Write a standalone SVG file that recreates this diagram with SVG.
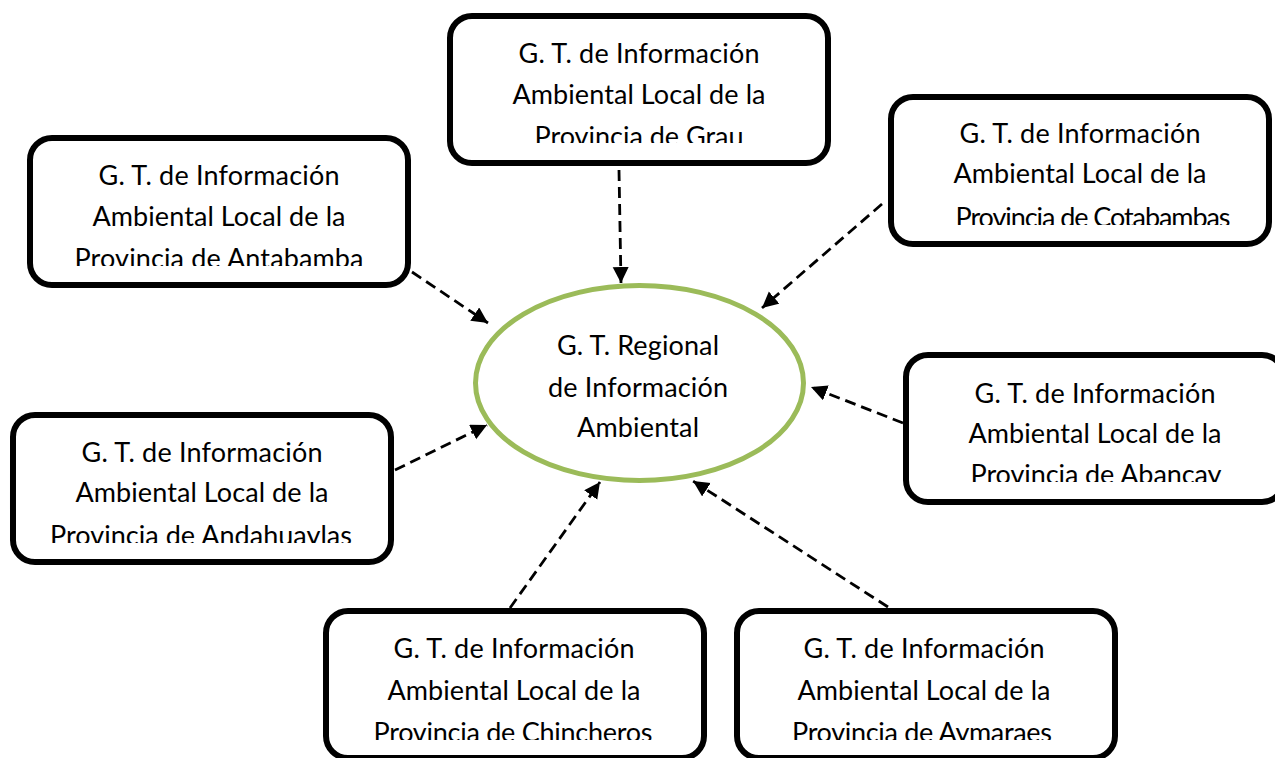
<svg xmlns="http://www.w3.org/2000/svg" width="1275" height="758" viewBox="0 0 1275 758">
<style>
.box{fill:#fff;stroke:#000;stroke-width:6}
.t{font-family:Lato,"Liberation Sans",sans-serif;font-size:27px;fill:#000;text-anchor:middle}
.c{fill:none;stroke:#000;stroke-width:2.8;stroke-dasharray:11 6}
</style>
<defs>
<marker id="ah" markerUnits="userSpaceOnUse" markerWidth="17" markerHeight="17" refX="16" refY="8" orient="auto">
<path d="M0,0 L16,8 L0,16 z" fill="#000"/>
</marker>
<clipPath id="k1"><rect x="447" y="13" width="384" height="130"/></clipPath>
<clipPath id="k2"><rect x="888" y="94" width="384" height="131"/></clipPath>
<clipPath id="k3"><rect x="27" y="135" width="384" height="131"/></clipPath>
<clipPath id="k4"><rect x="903" y="352" width="384" height="130"/></clipPath>
<clipPath id="k5"><rect x="10" y="412" width="384" height="131"/></clipPath>
<clipPath id="k6"><rect x="323" y="608" width="384" height="132"/></clipPath>
<clipPath id="k7"><rect x="734" y="608" width="384" height="132"/></clipPath>
</defs>
<rect width="1275" height="758" fill="#fff"/>
<g id="connectors">
<line class="c" x1="619" y1="170" x2="621" y2="283" marker-end="url(#ah)"/>
<line class="c" x1="882" y1="204" x2="762" y2="308" marker-end="url(#ah)"/>
<line class="c" x1="412" y1="272" x2="488" y2="323" marker-end="url(#ah)"/>
<line class="c" x1="903" y1="423" x2="811" y2="387" marker-end="url(#ah)"/>
<line class="c" x1="395" y1="470" x2="487" y2="425" marker-end="url(#ah)"/>
<line class="c" x1="510" y1="608" x2="600" y2="482" marker-end="url(#ah)"/>
<line class="c" x1="888" y1="607" x2="693" y2="481" marker-end="url(#ah)"/>
</g>
<g id="center">
<ellipse cx="639.5" cy="383" rx="164" ry="97.5" fill="none" stroke="#9BBB59" stroke-width="5"/>
<text class="t" x="638" y="355" textLength="162">G. T. Regional</text>
<text class="t" x="638" y="397" textLength="180">de Información</text>
<text class="t" x="638" y="437" textLength="122">Ambiental</text>
</g>
<g id="grau">
<rect class="box" x="450" y="16" width="378" height="147" rx="22"/>
<g clip-path="url(#k1)">
<text class="t" x="639" y="63" textLength="241">G. T. de Información</text>
<text class="t" x="639" y="104" textLength="253">Ambiental Local de la</text>
<text class="t" x="639" y="146" textLength="209">Provincia de Grau</text>
</g>
</g>
<g id="cotabambas">
<rect class="box" x="891" y="97" width="378" height="147" rx="22"/>
<g clip-path="url(#k2)">
<text class="t" x="1080" y="143" textLength="241">G. T. de Información</text>
<text class="t" x="1080" y="183" textLength="253">Ambiental Local de la</text>
<text class="t" x="1093" y="227" textLength="275">Provincia de Cotabambas</text>
</g>
</g>
<g id="antabamba">
<rect class="box" x="30" y="138" width="378" height="147" rx="22"/>
<g clip-path="url(#k3)">
<text class="t" x="219" y="185" textLength="241">G. T. de Información</text>
<text class="t" x="219" y="226" textLength="253">Ambiental Local de la</text>
<text class="t" x="219" y="268" textLength="289">Provincia de Antabamba</text>
</g>
</g>
<g id="abancay">
<rect class="box" x="906" y="355" width="378" height="147" rx="22"/>
<g clip-path="url(#k4)">
<text class="t" x="1095" y="403" textLength="241">G. T. de Información</text>
<text class="t" x="1095" y="443" textLength="253">Ambiental Local de la</text>
<text class="t" x="1096" y="484" textLength="251">Provincia de Abancay</text>
</g>
</g>
<g id="andahuaylas">
<rect class="box" x="13" y="415" width="378" height="147" rx="22"/>
<g clip-path="url(#k5)">
<text class="t" x="202" y="462" textLength="241">G. T. de Información</text>
<text class="t" x="202" y="502" textLength="253">Ambiental Local de la</text>
<text class="t" x="201" y="545" textLength="302">Provincia de Andahuaylas</text>
</g>
</g>
<g id="chincheros">
<rect class="box" x="326" y="611" width="378" height="147" rx="22"/>
<g clip-path="url(#k6)">
<text class="t" x="514" y="658" textLength="241">G. T. de Información</text>
<text class="t" x="514" y="700" textLength="253">Ambiental Local de la</text>
<text class="t" x="513" y="742" textLength="279">Provincia de Chincheros</text>
</g>
</g>
<g id="aymaraes">
<rect class="box" x="737" y="611" width="378" height="147" rx="22"/>
<g clip-path="url(#k7)">
<text class="t" x="924" y="658" textLength="241">G. T. de Información</text>
<text class="t" x="924" y="700" textLength="253">Ambiental Local de la</text>
<text class="t" x="922" y="742" textLength="260">Provincia de Aymaraes</text>
</g>
</g>
</svg>
